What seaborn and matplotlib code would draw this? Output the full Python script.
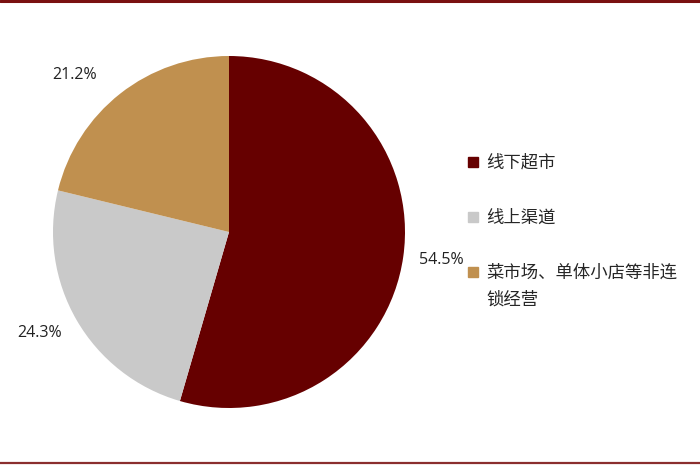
import matplotlib
matplotlib.use("Agg")
import matplotlib.pyplot as plt
import seaborn as sns
from matplotlib.lines import Line2D

sns.set_theme(style="white")
plt.rcParams['font.family'] = ['Noto Sans CJK SC', 'DejaVu Sans']

categories = ["线下超市", "线上渠道", "菜市场、单体小店等非连锁经营"]
values = [54.5, 24.3, 21.2]
colors = ["#660000", "#C9C9C9", "#C0904F"]
# label anchor positions (in pie radius units), "best fit" like the reference
label_pos = [(1.205, -0.159), (-1.074, -0.574), (-0.875, 0.892)]

W, H = 700, 465
fig = plt.figure(figsize=(7, 4.65), dpi=100)
cx, cy, r = 229, 232, 176
ax = fig.add_axes([(cx - r) / W, (H - cy - r) / H, 2 * r / W, 2 * r / H])
wedges, texts, autotexts = ax.pie(
    values, colors=colors, startangle=90, counterclock=False,
    autopct="%.1f%%", pctdistance=1.21, radius=1,
    wedgeprops=dict(linewidth=0),
    textprops=dict(fontsize=11.5, color="#222222", family=['Open Sans', 'DejaVu Sans']),
)
for t, p in zip(autotexts, label_pos):
    t.set_position(p)
ax.set_xlim(-1, 1)
ax.set_ylim(-1, 1)
ax.set_aspect("equal")

# legend: wrap the long label after 11 characters, second line drawn below
first_lines = [c[:11] for c in categories]
handles = [Line2D([0], [0], marker="s", linestyle="none", markersize=7.5,
                  markerfacecolor=c, markeredgecolor=c) for c in colors]
leg = fig.legend(handles, first_lines, loc="upper left",
                 bbox_to_anchor=(466 / W, 1 - 154 / H), frameon=False,
                 fontsize=12.5, labelspacing=2.12, handletextpad=0.35,
                 handlelength=0.8, borderaxespad=0, borderpad=0)
fig.canvas.draw()
bb = leg.get_texts()[2].get_window_extent()
rest = categories[2][11:]
fig.text(bb.x0 / W, (bb.y0 - 27) / H, rest, fontsize=12.5, ha="left", va="bottom")

# top and bottom rules
fig.add_artist(Line2D([0, 1], [1 - 1.5 / H, 1 - 1.5 / H], color="#7A1010", linewidth=2.2))
fig.add_artist(Line2D([0, 1], [1.8 / H, 1.8 / H], color="#8B2E2E", linewidth=1.6))

fig.savefig("out.png", dpi=100)
